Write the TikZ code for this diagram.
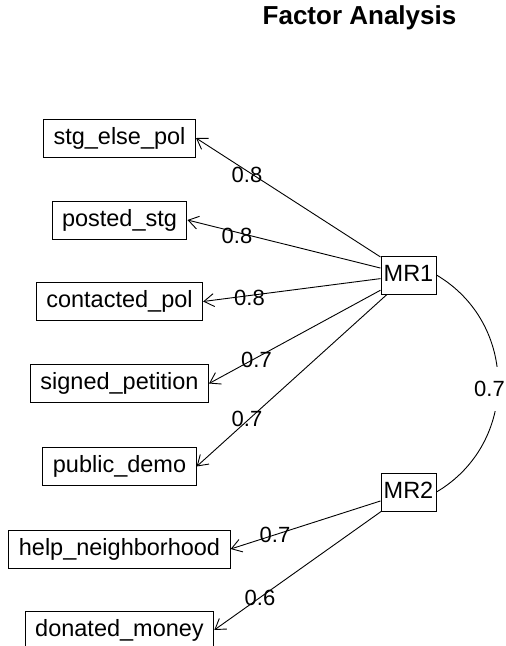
\documentclass[tikz,border=0pt]{standalone}
\usepackage{fontspec}
\setmainfont{Liberation Sans}
\usetikzlibrary{arrows.meta}
\begin{document}
\begin{tikzpicture}[x=1pt,y=-1pt,
  var/.style={draw,line width=1pt,inner xsep=10pt,inner ysep=0pt,minimum height=38pt,
    text height=17pt,text depth=5pt,font=\fontsize{23.5}{27}\selectfont},
  fac/.style={var,inner xsep=2pt},
  load/.style={line width=0.9pt,-{Straight Barb[length=10pt,width=13pt,line width=0.9pt]}},
  lab/.style={inner sep=0pt,font=\fontsize{22}{26}\selectfont},
]
\useasboundingbox (0,0) rectangle (506,646);
\node[anchor=base,font=\fontsize{26}{30}\selectfont\bfseries] (title) at (359.5,24) {Factor Analysis};

\node[var] (v1) at (119.5,138) {stg\_else\_pol};
\node[var] (v2) at (119.5,220) {posted\_stg};
\node[var] (v3) at (119.5,301.5) {contacted\_pol};
\node[var] (v4) at (119.5,383.5) {signed\_petition};
\node[var] (v5) at (119.5,466.5) {public\_demo};
\node[var] (v6) at (119.5,549) {help\_neighborhood};
\node[var] (v7) at (119.5,630) {donated\_money};

\node[fac,minimum width=55pt] (mr1) at (408.5,275) {MR1};
\node[fac,minimum width=55pt] (mr2) at (408.5,492) {MR2};

\draw[load] (mr1) -- (v1.east);
\draw[load] (mr1) -- (v2.east);
\draw[load] (mr1) -- (v3.east);
\draw[load] (mr1) -- (v4.east);
\draw[load] (mr1) -- (v5.east);
\draw[load] (mr2) -- (v6.east);
\draw[load] (mr2) -- (v7.east);

\node[lab] (l1) at (247,174.5) {0.8};
\node[lab] (l2) at (237,235.5) {0.8};
\node[lab] (l3) at (249.5,298) {0.8};
\node[lab] (l4) at (256.5,359.5) {0.7};
\node[lab] (l5) at (247,419) {0.7};
\node[lab] (l6) at (275,535) {0.7};
\node[lab] (l7) at (260,598) {0.6};

\draw[line width=0.9pt] (mr1.east) .. controls (518.7,323.7) and (518.7,443.3) .. (mr2.east);
\node[lab,fill=white,minimum height=44pt,inner xsep=2pt] (l8) at (489.5,389) {0.7};
\end{tikzpicture}
\end{document}
